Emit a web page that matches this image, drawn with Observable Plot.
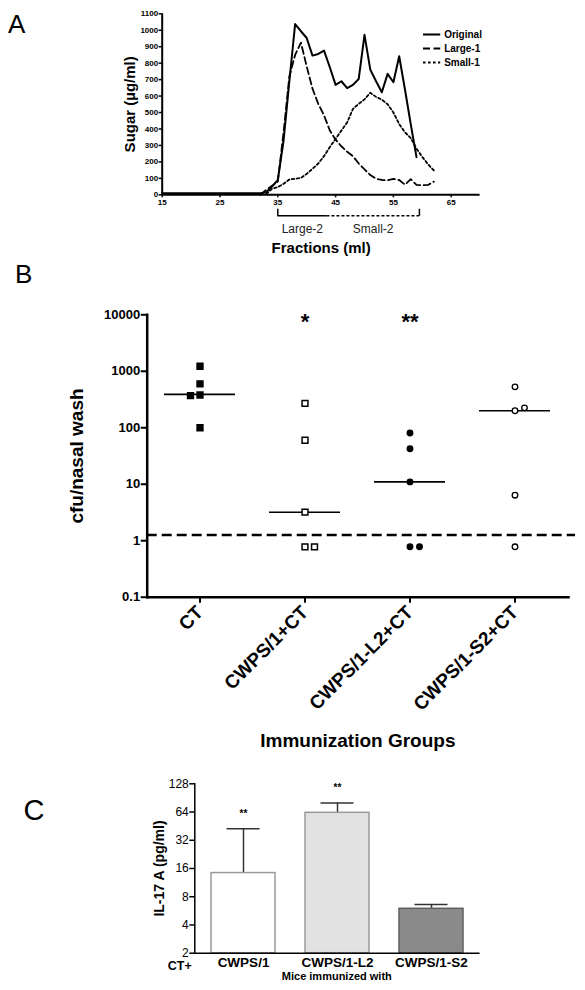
<!DOCTYPE html>
<html><head><meta charset="utf-8">
<script src="https://cdn.jsdelivr.net/npm/d3@7"></script>
<script src="https://cdn.jsdelivr.net/npm/@observablehq/plot@0.6"></script>
<style>
body{margin:0;background:#fff;font-family:"Liberation Sans",Arial,Helvetica,sans-serif}
#root{position:relative;width:585px;height:990px;overflow:hidden;background:#fff}
.panel{position:absolute}
.letter{position:absolute;line-height:1;color:#000;font-weight:normal}
</style></head><body><div id="root"></div>
<script>
// ---------- Panel A data ----------
const fractions = [15,16,17,18,19,20,21,22,23,24,25,26,27,28,29,30,31,32,33,34,35,36,37,38,39,40,41,42,43,44,45,46,47,48,49,50,51,52,53,54,55,56,57,58,59,60,61,62];
const original = [10,10,10,10,10,10,10,10,10,10,10,10,10,10,10,10,10,10,15,50,90,330,690,1038,994,953,846,856,876,775,668,690,648,668,704,972,761,690,623,735,684,842,640,430,229,null,null,null];
const large1 = [null,null,null,null,null,null,null,null,null,null,null,null,null,null,null,null,null,0,30,55,80,380,720,850,925,780,645,553,482,391,335,295,262,235,190,155,120,97,90,88,97,90,62,95,60,58,60,80];
const small1 = [null,null,null,null,null,null,null,null,null,null,null,null,null,null,null,null,null,null,5,36,47,67,93,97,103,127,158,190,235,290,340,390,440,522,553,580,620,595,578,550,500,430,380,345,280,230,185,148];
const seriesNames = ["Original","Large-1","Small-1"];
const aXTicks = [15,25,35,45,55,65];
const aYTicks = [0,100,200,300,400,500,600,700,800,900,1000,1100];
const bracketNames = ["Large-2","Small-2"];
const bracketStart = [35,43.5];
const bracketEnd = [43.5,59.5];

// ---------- Panel B data ----------
const bGroups = ["CT","CWPS/1+CT","CWPS/1-L2+CT","CWPS/1-S2+CT"];
const bValues = [
  [1230,600,380,370,100],
  [270,60,3.2,0.78,0.78],
  [81,42.5,11,0.78,0.78],
  [530,200,225,6.4,0.78]
];
const bMedians = [390,3.2,11,200];
const bStars = ["","*","**",""];
const bLimit = 1.26;
const bYTicks = [0.1,1,10,100,1000,10000];

// ---------- Panel C data ----------
const cGroups = ["CWPS/1","CWPS/1-L2","CWPS/1-S2"];
const cMeans = [14.3,62.8,5.95];
const cUpper = [42.5,80,6.6];
const cStars = ["**","**",""];
const cYTicks = [2,4,8,16,32,64,128];

// ---------- helpers ----------
const FONT = "'Liberation Sans', Arial, Helvetica, sans-serif";
const root = document.getElementById("root");
function place(el, left, top){
  const d = document.createElement("div");
  d.className = "panel"; d.style.left = left + "px"; d.style.top = top + "px";
  d.appendChild(el); root.appendChild(d); return d;
}
function letter(t, left, top, size){
  const d = document.createElement("div");
  d.className = "letter"; d.textContent = t;
  d.style.left = left + "px"; d.style.top = top + "px"; d.style.fontSize = size + "px";
  root.appendChild(d);
}
function styleLabel(svg, name, attrs){
  d3.select(svg).selectAll(`g[aria-label="${name}"] text`).each(function(){
    for (const k in attrs) this.setAttribute(k, attrs[k]);
    // strip any arrow that the library may add to axis labels
    d3.select(this).selectAll("tspan").each(function(){
      if (/^[\u2191\u2193\u2190\u2192]\s*$/.test(this.textContent.trim())) this.remove();
      else this.textContent = this.textContent.replace(/[\u2191\u2193\u2190\u2192]\s?/g, "").replace(/\s?[\u2191\u2193\u2190\u2192]/g, "");
    });
    if (!this.querySelector("tspan")) this.textContent = this.textContent.replace(/\s?[\u2191\u2193\u2190\u2192]\s?/g, "");
  });
}
const baseStyle = {fontFamily: FONT, background: "transparent", overflow: "visible", color: "#000"};

// ---------- Panel A ----------
const dashes = {"Original": null, "Large-1": "7,3.5", "Small-1": "2.6,2.4"};
const seriesValues = [original, large1, small1];
const aRows = seriesNames.flatMap((s, i) => fractions.map((f, j) => ({series: s, fraction: f, sugar: seriesValues[i][j]})));
const brackets = bracketNames.map((n, i) => ({name: n, x1: bracketStart[i], x2: bracketEnd[i], mid: (bracketStart[i] + bracketEnd[i]) / 2}));
const endTick = {draw(ctx, size){ const h = Math.sqrt(size) / 2; ctx.moveTo(0, -h); ctx.lineTo(0, h); }};

const chartA = Plot.plot({
  width: 585, height: 262,
  marginLeft: 161.7, marginRight: 105.4, marginTop: 13.3, marginBottom: 67.7,
  style: baseStyle,
  x: {domain: [15, 70]},
  y: {domain: [0, 1100]},
  marks: [
    Plot.axisY(aYTicks, {tickFormat: d => String(d), tickSize: 3, tickPadding: 1, fontSize: 8, fontWeight: "bold", strokeWidth: 1.5,
      label: "Sugar (µg/ml)", labelArrow: "none", labelAnchor: "center", labelOffset: 38}),
    Plot.axisX(aXTicks, {tickFormat: d => String(d), tickSize: 3, tickPadding: 2, fontSize: 8, fontWeight: "bold", strokeWidth: 1.5,
      label: "Fractions (ml)", labelArrow: "none", labelAnchor: "center", labelOffset: 58}),
    Plot.ruleX([15], {strokeWidth: 2}),
    Plot.ruleY([0], {strokeWidth: 2}),
    ...seriesNames.map(s => Plot.line(aRows.filter(d => d.series === s), {
      x: "fraction", y: "sugar", stroke: "#000", strokeWidth: s === "Original" ? 2 : 1.8,
      strokeDasharray: dashes[s]
    })),
    Plot.ruleY(brackets.filter(d => d.name === "Large-2"), {y: () => 0, x1: "x1", x2: "x2", dy: 21, strokeWidth: 1.5}),
    Plot.ruleY(brackets.filter(d => d.name === "Small-2"), {y: () => 0, x1: "x1", x2: "x2", dy: 21, strokeWidth: 1.5, strokeDasharray: "3,2"}),
    Plot.dot([bracketStart[0], bracketEnd[1]], {x: d => d, y: () => 0, dy: 17.5, symbol: endTick, r: 3.95, stroke: "#000", strokeWidth: 1.5}),
    Plot.text(brackets, {x: "mid", y: () => 0, dy: 34, text: "name", fontSize: 12, fill: "#222"})
  ]
});
styleLabel(chartA, "y-axis label", {"font-size": 15, "font-weight": "bold"});
styleLabel(chartA, "x-axis label", {"font-size": 15, "font-weight": "bold"});
place(chartA, 0, 0);

const legendA = Plot.plot({
  width: 90, height: 44, marginTop: 8, marginBottom: 7, marginLeft: 4, marginRight: 0,
  style: baseStyle,
  x: {domain: [0, 1], axis: null},
  y: {type: "point", domain: seriesNames, axis: null, padding: 0},
  marks: [
    ...seriesNames.map(s => Plot.ruleY([s], {x1: 0, x2: 0.2, strokeWidth: s === "Original" ? 2 : 1.8, strokeDasharray: dashes[s]})),
    Plot.text(seriesNames, {y: d => d, x: 0.24, textAnchor: "start", fontSize: 10, fontWeight: "bold"})
  ]
});
place(legendA, 419, 25);

// ---------- Panel B ----------
const bSymbols = ["square","square","circle","circle"];
const bFills = ["#000","#fff","#000","#fff"];
const bRows = [];
bGroups.forEach((g, gi) => {
  const placed = [];
  const side = gi === 0 ? -1 : 1; // tied points are set beside each other
  bValues[gi].forEach(v => {
    const tie = placed.some(p => Math.abs(Math.log10(p) - Math.log10(v)) < 0.08);
    bRows.push({group: g, value: v, shift: tie ? side : 0, symbol: bSymbols[gi], fill: bFills[gi]});
    placed.push(v);
  });
});
const bMedRows = bGroups.map((g, i) => ({group: g, median: bMedians[i], star: bStars[i]}));
const dotMarks = [-1, 0, 1].map(s => {
  const rows = bRows.filter(d => d.shift === s);
  return [
    Plot.dot(rows.filter(d => d.symbol === "square"), {x: "group", y: "value", symbol: "square", fill: "fill", stroke: "#000", strokeWidth: 1.5, r: 3.3, dx: s * 9.5}),
    Plot.dot(rows.filter(d => d.symbol === "circle"), {x: "group", y: "value", symbol: "circle", fill: "fill", stroke: "#000", strokeWidth: 1.3, r: 2.8, dx: s * 9.5})
  ];
}).flat();

const chartB = Plot.plot({
  width: 585, height: 480,
  marginLeft: 146.7, marginRight: 17, marginTop: 34.3, marginBottom: 163.3,
  style: baseStyle,
  x: {type: "band", domain: bGroups, paddingInner: 0.326, paddingOuter: 0.163},
  y: {type: "log", domain: [0.1, 10000]},
  fill: {type: "identity"},
  marks: [
    Plot.axisY(bYTicks, {tickFormat: d => String(d), tickSize: 6, tickPadding: 1, fontSize: 13, fontWeight: "bold", strokeWidth: 2,
      label: "cfu/nasal wash", labelArrow: "none", labelAnchor: "center", labelOffset: 78}),
    Plot.axisX({tickRotate: -45, tickSize: 6, tickPadding: 6, fontSize: 19, fontWeight: "bold", strokeWidth: 2,
      label: "Immunization Groups", labelArrow: "none", labelAnchor: "center", labelOffset: 150}),
    Plot.frame({anchor: "left", strokeWidth: 2.5}),
    Plot.frame({anchor: "bottom", strokeWidth: 2.5}),
    Plot.ruleY([bLimit], {strokeWidth: 2.5, strokeDasharray: "10,5", insetRight: -7}),
    Plot.tickY(bMedRows, {x: "group", y: "median", strokeWidth: 1.6}),
    ...dotMarks,
    Plot.text(bMedRows, {x: "group", text: "star", frameAnchor: "top", lineAnchor: "top", fontSize: 22, fontWeight: "bold", dy: -1})
  ]
});
styleLabel(chartB, "y-axis label", {"font-size": 19, "font-weight": "bold"});
styleLabel(chartB, "x-axis label", {"font-size": 19, "font-weight": "bold"});
place(chartB, 0, 280);

// ---------- Panel C ----------
const cFills = ["#ffffff", "#e2e2e2", "#8a8a8a"];
const cStrokes = ["#9a9a9a", "#9a9a9a", "#606060"];
const cRows = cGroups.map((g, i) => ({group: g, mean: cMeans[i], upper: cUpper[i], star: cStars[i], fill: cFills[i], stroke: cStrokes[i]}));

const chartC = Plot.plot({
  width: 585, height: 230,
  marginLeft: 194.3, marginRight: 106.7, marginTop: 23.3, marginBottom: 37.3,
  style: baseStyle,
  x: {type: "band", domain: cGroups, paddingInner: 0.324, paddingOuter: 0.162},
  y: {type: "log", base: 2, domain: [cYTicks[0], cYTicks[cYTicks.length - 1]]},
  fill: {type: "identity"}, stroke: {type: "identity"},
  marks: [
    Plot.axisY(cYTicks, {tickFormat: d => String(d), tickSize: 5, tickPadding: 1, fontSize: 12, strokeWidth: 1.5,
      label: "IL-17 A (pg/ml)", labelArrow: "none", labelAnchor: "center", labelOffset: 41}),
    Plot.axisX({tickSize: 0, tickPadding: 4, fontSize: 13.5, fontWeight: "bold",
      label: "Mice immunized with", labelArrow: "none", labelAnchor: "center", labelOffset: 27}),
    Plot.ruleX(cRows, {x: "group", y1: "mean", y2: "upper", stroke: "#333", strokeWidth: 1.5}),
    Plot.tickY(cRows, {x: "group", y: "upper", insetLeft: 15.5, insetRight: 15.5, stroke: "#333", strokeWidth: 1.5}),
    Plot.barY(cRows, {x: "group", y1: cYTicks[0], y2: "mean", fill: "fill", stroke: "stroke", strokeWidth: 1.5}),
    Plot.frame({anchor: "left", strokeWidth: 1.5}),
    Plot.frame({anchor: "bottom", strokeWidth: 1.5}),
    Plot.text(cRows, {x: "group", y: "upper", text: "star", dy: -15, fontSize: 10, fontWeight: "bold"}),
    Plot.text(["CT+"], {frameAnchor: "bottom-left", lineAnchor: "middle", textAnchor: "end", dx: -3, dy: 13, fontSize: 12.5, fontWeight: "bold"})
  ]
});
styleLabel(chartC, "y-axis label", {"font-size": 14, "font-weight": "bold"});
styleLabel(chartC, "x-axis label", {"font-size": 11, "font-weight": "bold"});
place(chartC, 0, 760);

// ---------- panel letters ----------
letter("A", 8, 11, 26);
letter("B", 15, 261, 26);
letter("C", 23.5, 795.5, 29);
</script>
</body></html>
